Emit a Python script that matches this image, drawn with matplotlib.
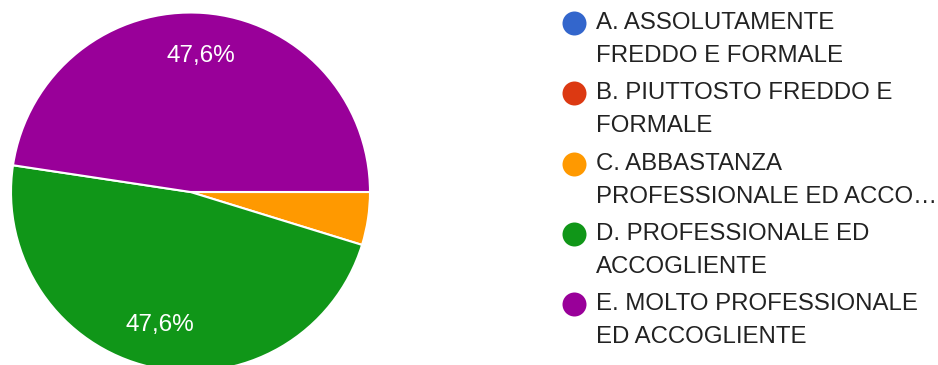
import matplotlib.pyplot as plt

plt.rcParams['font.family'] = ['Liberation Sans', 'DejaVu Sans']

# risposte per opzione
labels = [
    ['A. ASSOLUTAMENTE', 'FREDDO E FORMALE'],
    ['B. PIUTTOSTO FREDDO E', 'FORMALE'],
    ['C. ABBASTANZA', 'PROFESSIONALE ED ACCO…'],
    ['D. PROFESSIONALE ED', 'ACCOGLIENTE'],
    ['E. MOLTO PROFESSIONALE', 'ED ACCOGLIENTE'],
]
counts = [0, 0, 1, 10, 10]
colors = ['#3366cc', '#dc3912', '#ff9900', '#109618', '#990099']

W, H = 938, 365
fig = plt.figure(figsize=(W / 100, H / 100), dpi=100)

# pie axes placed in pixel units
cx, cy, r = 190.5, 173, 179.5
ax = fig.add_axes([(cx - r) / W, (cy - r) / H, 2 * r / W, 2 * r / H])


def fmt_pct(p):
    if p < 10:
        return ''
    return f'{p:.1f}%'.replace('.', ',')


wedges, texts, autotexts = ax.pie(
    counts, colors=colors, startangle=0, counterclock=False,
    autopct=fmt_pct, pctdistance=0.76, radius=1,
    wedgeprops=dict(edgecolor='white', linewidth=1.5),
    textprops=dict(color='white', fontsize=17.5))
ax.set_xlim(-1, 1)
ax.set_ylim(-1, 1)
ax.set_aspect('equal')
ax.axis('off')

# legend, drawn by hand on a pixel-unit overlay
lg = fig.add_axes([0, 0, 1, 1])
lg.set_xlim(0, W)
lg.set_ylim(H, 0)
lg.axis('off')

x_dot, x_txt = 574, 596
y0, step, line_gap = 23, 70.3, 33
for i, (lines, c) in enumerate(zip(labels, colors)):
    y = y0 + i * step
    lg.scatter([x_dot], [y], s=(24 * 0.72) ** 2, color=c, linewidths=0)
    for j, line in enumerate(lines):
        lg.text(x_txt, y + j * line_gap, line,
                fontsize=17.3, color='#222222', va='center', ha='left')

fig.savefig('out.png', dpi=100)
